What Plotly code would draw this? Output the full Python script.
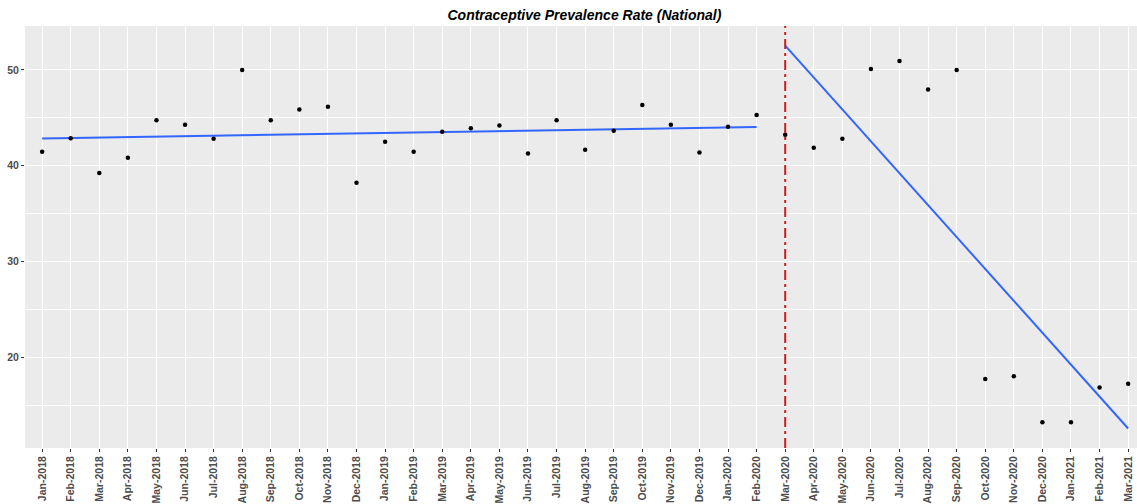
import numpy as np
import plotly.graph_objects as go

# Monthly contraceptive prevalence rate, national level
months = [
    "Jan-2018", "Feb-2018", "Mar-2018", "Apr-2018", "May-2018", "Jun-2018",
    "Jul-2018", "Aug-2018", "Sep-2018", "Oct-2018", "Nov-2018", "Dec-2018",
    "Jan-2019", "Feb-2019", "Mar-2019", "Apr-2019", "May-2019", "Jun-2019",
    "Jul-2019", "Aug-2019", "Sep-2019", "Oct-2019", "Nov-2019", "Dec-2019",
    "Jan-2020", "Feb-2020", "Mar-2020", "Apr-2020", "May-2020", "Jun-2020",
    "Jul-2020", "Aug-2020", "Sep-2020", "Oct-2020", "Nov-2020", "Dec-2020",
    "Jan-2021", "Feb-2021", "Mar-2021",
]
rate = [
    41.46, 42.88, 39.24, 40.83, 44.76, 44.27,
    42.81, 50.00, 44.76, 45.87, 46.15, 38.23,
    42.50, 41.46, 43.54, 43.92, 44.20, 41.28,
    44.76, 41.67, 43.65, 46.35, 44.27, 41.39,
    44.06, 45.31, 43.23, 41.88, 42.81, 50.10,
    50.94, 47.95, 50.00, 17.76, 18.05, 13.26,
    13.26, 16.88, 17.26,
]
intervention = "Mar-2020"
y_ticks = [20, 30, 40, 50]

x = np.arange(len(months))
y = np.array(rate)
cut = months.index(intervention)

fig = go.Figure()

# Linear trend fitted separately before and after the intervention month
for seg in (slice(0, cut), slice(cut, len(months))):
    xs, ys = x[seg], y[seg]
    slope, icpt = np.polyfit(xs, ys, 1)
    fig.add_trace(go.Scatter(
        x=[xs[0], xs[-1]], y=[icpt + slope * xs[0], icpt + slope * xs[-1]],
        mode="lines", line=dict(color="#3366FF", width=2), hoverinfo="skip",
    ))

fig.add_trace(go.Scatter(
    x=x, y=y, mode="markers",
    marker=dict(color="black", size=4.5),
))

# Intervention marker
fig.add_vline(x=cut, line=dict(color="#C8201E", width=2, dash="10px,4px,3px,4px"))

tick_font = dict(family="Liberation Sans, Arial, sans-serif", size=10.5,
                 color="#4D4D4D", weight="bold")

fig.update_layout(
    width=1137, height=504,
    margin=dict(l=25, r=0, t=26, b=56),
    paper_bgcolor="white", plot_bgcolor="#EBEBEB",
    showlegend=False,
    title=dict(
        text="Contraceptive Prevalence Rate (National)",
        x=0.514, xanchor="center", y=0.971, yanchor="middle",
        font=dict(family="Liberation Sans, Arial, sans-serif", size=14,
                  color="black", weight="bold", style="italic"),
    ),
    xaxis=dict(
        range=[-0.6, 38.31], tickmode="array", tickvals=x, ticktext=months,
        tickangle=-90, tickfont=tick_font,
        showgrid=True, gridcolor="white", gridwidth=1,
        ticks="outside", ticklen=3, tickcolor="#333333", tickwidth=1,
        zeroline=False, showline=False, automargin=False,
    ),
    yaxis=dict(
        range=[10.57, 54.58], tickmode="array", tickvals=y_ticks,
        tickfont=tick_font,
        showgrid=True, gridcolor="white", gridwidth=1.2,
        minor=dict(dtick=5, tick0=0, showgrid=True, gridcolor="white", gridwidth=0.5,
                   ticks=""),
        ticks="outside", ticklen=3, tickcolor="#333333", tickwidth=1,
        zeroline=False, showline=False, automargin=False,
    ),
)

fig.write_html("out.html")
